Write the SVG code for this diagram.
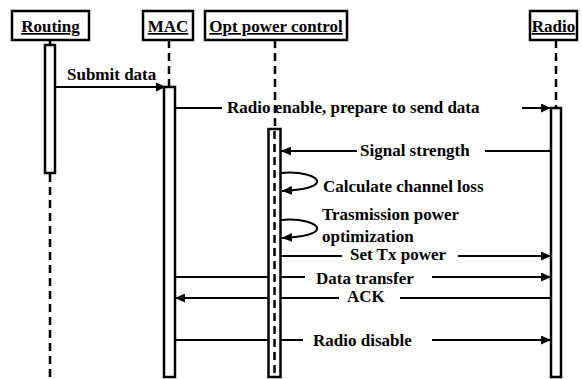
<svg xmlns="http://www.w3.org/2000/svg" width="582" height="379" viewBox="0 0 582 379">
<style>
text{font-family:"Liberation Serif","Times New Roman",serif;font-size:17px;font-weight:bold;fill:#000}
.box{fill:#fff;stroke:#000;stroke-width:2.5}
.name{text-anchor:middle;text-decoration:underline}
.life{stroke:#000;stroke-width:2.5;stroke-dasharray:8 5;fill:none}
.bar{fill:#fff;stroke:#000;stroke-width:2.5}
.msg{stroke:#000;stroke-width:2;fill:none}
.arr{marker-end:url(#ah)}
</style>
<defs>
<marker id="ah" markerUnits="userSpaceOnUse" markerWidth="11" markerHeight="9" refX="10" refY="4.5" orient="auto">
<path d="M0,0 L10,4.5 L0,9 z" fill="#000"/>
</marker>
</defs>
<rect width="582" height="379" fill="#fff"/>
<g id="routing">
<rect class="box" x="12" y="11" width="77" height="29"/>
<text class="name" x="50.5" y="32">Routing</text>
<line x1="50" y1="40" x2="50" y2="45" stroke="#000" stroke-width="2.5"/>
<rect class="bar" x="45" y="45" width="10" height="128"/>
<line class="life" x1="50" y1="174" x2="50" y2="379"/>
</g>
<g id="mac">
<rect class="box" x="143" y="11" width="50" height="29"/>
<text class="name" x="168" y="32">MAC</text>
<line class="life" x1="169" y1="40" x2="169" y2="87"/>
<rect class="bar" x="164" y="87" width="11" height="290"/>
</g>
<g id="opt">
<rect class="box" x="205" y="11" width="142" height="29"/>
<text class="name" x="276" y="32">Opt power control</text>
<line class="life" x1="275" y1="40" x2="275" y2="129"/>
<rect class="bar" x="268.5" y="129" width="12" height="248"/>
<line class="life" x1="274.5" y1="131" x2="274.5" y2="376" stroke-width="2" stroke-dasharray="7 3"/>
</g>
<g id="radio">
<rect class="box" x="530" y="11" width="47" height="29"/>
<text class="name" x="553.5" y="32">Radio</text>
<line class="life" x1="556" y1="40" x2="556" y2="108"/>
<rect class="bar" x="551" y="108" width="10" height="269"/>
</g>
<g id="connectors">
<line class="msg arr" x1="55" y1="87" x2="166" y2="87"/>
<text x="67" y="80">Submit data</text>
<line class="msg" x1="175" y1="108" x2="222" y2="108"/>
<line class="msg arr" x1="522" y1="108" x2="551" y2="108"/>
<text x="227" y="113">Radio enable, prepare to send data</text>
<line class="msg" x1="551" y1="151" x2="485" y2="151"/>
<line class="msg arr" x1="357" y1="151" x2="281" y2="151"/>
<text x="360" y="156">Signal strength</text>
<path class="msg arr" d="M281,173 C300,171 318,176 317,182 C316,188 300,190 282,191"/>
<text x="323" y="192">Calculate channel loss</text>
<path class="msg arr" d="M281,220 C300,218 318,223 317,229 C316,235 300,237 282,238"/>
<text x="322" y="220">Trasmission power</text>
<text x="322" y="242">optimization</text>
<line class="msg" x1="281" y1="256" x2="342" y2="256"/>
<line class="msg arr" x1="458" y1="256" x2="551" y2="256"/>
<text x="350" y="260">Set Tx power</text>
<line class="msg" x1="175" y1="277" x2="268" y2="277"/>
<line class="msg" x1="281" y1="277" x2="305" y2="277"/>
<line class="msg arr" x1="432" y1="277" x2="551" y2="277"/>
<text x="316" y="284">Data transfer</text>
<line class="msg" x1="551" y1="298" x2="400" y2="298"/>
<line class="msg" x1="339" y1="298" x2="281" y2="298"/>
<line class="msg arr" x1="268" y1="298" x2="175" y2="298"/>
<text x="347" y="302">ACK</text>
<line class="msg" x1="175" y1="340" x2="268" y2="340"/>
<line class="msg" x1="281" y1="340" x2="303" y2="340"/>
<line class="msg arr" x1="432" y1="340" x2="551" y2="340"/>
<text x="313" y="346">Radio disable</text>
</g>
</svg>
